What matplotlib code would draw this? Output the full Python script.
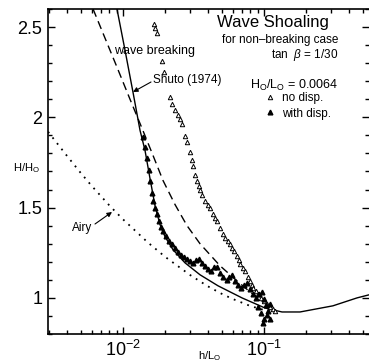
#Wave shoaling: H/Ho against h/Lo, with Airy, Shuto (1974) and the two data sets

import matplotlib.pyplot as plt
from matplotlib.ticker import MultipleLocator, FixedLocator

plt.rcParams['font.family'] = ['Liberation Sans', 'DejaVu Sans']
plt.rcParams['mathtext.fontset'] = 'custom'
plt.rcParams['mathtext.rm'] = 'Liberation Sans'
plt.rcParams['mathtext.it'] = 'Liberation Sans:italic'

#Airy (linear) shoaling curve, dotted
airy_h = [0.00294, 0.004, 0.005, 0.006, 0.008, 0.01, 0.015, 0.02, 0.03, 0.04,
          0.05, 0.06, 0.08, 0.1]
airy_H = [1.92, 1.787, 1.693, 1.62, 1.512, 1.435, 1.307, 1.226, 1.126, 1.064,
          1.023, 0.994, 0.955, 0.933]

#Shuto (1974), solid
shuto_h = [0.00906, 0.01033, 0.01177, 0.0132, 0.01432, 0.01554, 0.01686, 0.0183,
           0.01986, 0.02262, 0.02753, 0.03517, 0.04717, 0.06981, 0.1016, 0.1342,
           0.18, 0.308, 0.457, 0.556]
shuto_H = [2.60, 2.372, 2.139, 1.928, 1.817, 1.661, 1.511, 1.406,
           1.339, 1.267, 1.194, 1.128, 1.067, 1.0, 0.944, 0.922,
           0.922, 0.956, 1.0, 1.017]

#dashed curve
dash_h = [0.00613, 0.00745, 0.00906, 0.01121, 0.01364, 0.01632, 0.01922, 0.02338,
          0.02844, 0.03517, 0.04875, 0.06435, 0.07956, 0.09678, 0.1103]
dash_H = [2.60, 2.439, 2.278, 2.10, 1.939, 1.789, 1.65, 1.517,
          1.40, 1.30, 1.178, 1.094, 1.033, 0.983, 0.956]

#no disp. (open triangles)
nod_h = [0.01659, 0.01686, 0.01742, 0.01891, 0.01954, 0.02154, 0.02226, 0.02338,
         0.02455, 0.02537, 0.02621, 0.02753, 0.02844, 0.02987, 0.03086, 0.03137,
         0.03241, 0.03349, 0.0346, 0.03517, 0.03634, 0.03815, 0.04006, 0.0414,
         0.04348, 0.04492, 0.04641, 0.04875, 0.0512, 0.05289, 0.05555, 0.05739,
         0.0593, 0.06127, 0.06435, 0.06648, 0.06757, 0.07096, 0.07332, 0.077,
         0.07956, 0.0822, 0.08357, 0.08776, 0.09067, 0.09521, 0.09996, 0.105,
         0.1103, 0.1158, 0.1197]
nod_H = [2.517, 2.494, 2.467, 2.311, 2.25, 2.111, 2.072, 2.039,
         2.011, 1.989, 1.961, 1.894, 1.861, 1.806, 1.761, 1.728,
         1.678, 1.65, 1.622, 1.60, 1.572, 1.539, 1.517, 1.50,
         1.467, 1.444, 1.428, 1.389, 1.356, 1.333, 1.317, 1.30,
         1.278, 1.261, 1.233, 1.211, 1.189, 1.167, 1.15, 1.117,
         1.094, 1.072, 1.056, 1.039, 1.022, 1.0, 0.983, 0.967,
         0.95, 0.939, 0.928]

#with disp. (filled triangles)
wd_h = [0.01386, 0.01432, 0.0148, 0.01529, 0.01554, 0.01606, 0.01632, 0.01686,
        0.01742, 0.018, 0.0186, 0.01922, 0.02019, 0.02119, 0.02226, 0.02338,
        0.02455, 0.02579, 0.02708, 0.02844, 0.02987, 0.03137, 0.03294, 0.0346,
        0.03634, 0.03815, 0.04006, 0.04208, 0.04419, 0.04641, 0.04875, 0.0512,
        0.05465, 0.05646, 0.0593, 0.06228, 0.06541, 0.06868, 0.07213, 0.07575,
        0.07956, 0.08357, 0.08776, 0.09215, 0.09678, 0.09996, 0.1033, 0.1067,
        0.1103, 0.105, 0.09996, 0.09521, 0.09067, 0.1103, 0.09834]
wd_H = [1.889, 1.833, 1.772, 1.706, 1.65, 1.583, 1.539, 1.50,
        1.467, 1.428, 1.394, 1.372, 1.344, 1.317, 1.30, 1.278,
        1.256, 1.239, 1.228, 1.217, 1.206, 1.194, 1.211, 1.217,
        1.194, 1.178, 1.161, 1.15, 1.172, 1.172, 1.139, 1.117,
        1.10, 1.117, 1.128, 1.094, 1.072, 1.056, 1.072, 1.083,
        1.05, 1.022, 1.0, 1.022, 1.033, 0.994, 0.961, 0.928,
        0.967, 0.906, 0.883, 0.917, 0.95, 0.883, 0.861]

#figure pixel (from top left) -> figure fraction
W, H = 369, 363
def P(x, y):
    return (x / W, 1 - y / H)

fig = plt.figure(figsize=(W / 100, H / 100), dpi=100)
ax = fig.add_axes([48 / W, 1 - 334 / H, (W - 48) / W, (334 - 9) / H])

ax.plot(airy_h, airy_H, color='black', lw=1.3, linestyle=(0, (1, 3)))
ax.plot(dash_h, dash_H, color='black', lw=1.0, linestyle=(0, (6, 3.5)))
ax.plot(shuto_h, shuto_H, color='black', lw=1.0)
ax.plot(nod_h, nod_H, linestyle='none', marker='^', ms=3.2, mfc='white',
        mec='black', mew=0.7, label='no disp.')
ax.plot(wd_h, wd_H, linestyle='none', marker='^', ms=3.4, color='black',
        label='with disp.', zorder=3)

ax.set_xscale('log')
ax.set_xlim(0.002937, 0.5555)
ax.set_ylim(0.8, 2.6)
ax.set_xticks([0.01, 0.1])
ax.yaxis.set_major_locator(FixedLocator([1, 1.5, 2, 2.5]))
ax.set_yticklabels(['1', '1.5', '2', '2.5'])
ax.yaxis.set_minor_locator(MultipleLocator(0.1))
ax.tick_params(which='both', direction='in', top=True, right=True,
               labelsize=13, width=1.0)
ax.tick_params(which='major', length=5, pad=4)
ax.tick_params(which='minor', length=3)
ax.spines['right'].set_visible(False)
for s in ['left', 'bottom', 'top']:
    ax.spines[s].set_linewidth(1.2)

#axis labels
fig.text(*P(26, 168), 'H/H$_\\mathrm{O}$', fontsize=8, ha='center', va='center')
fig.text(*P(210, 356), 'h/L$_\\mathrm{O}$', fontsize=8, ha='center', va='center')

#title block
fig.text(*P(217, 22), 'Wave Shoaling', fontsize=12, ha='left', va='center')
fig.text(*P(338, 40), 'for non\u2013breaking case', fontsize=8.5, ha='right', va='center')
fig.text(*P(338, 55), 'tan  $\\it{\\beta}$ = 1/30', fontsize=8.5, ha='right', va='center')
fig.text(*P(338, 85), 'H$_\\mathrm{O}$/L$_\\mathrm{O}$ = 0.0064', fontsize=9,
         ha='right', va='center')

ax.legend(loc='upper left', bbox_to_anchor=P(265, 92), bbox_transform=fig.transFigure,
          frameon=False, fontsize=8.5, handlelength=0.8, handletextpad=0.6,
          labelspacing=0.3, borderpad=0, borderaxespad=0, markerscale=1.0)

#curve labels
fig.text(*P(114, 51), 'wave breaking', fontsize=9, ha='left', va='center')
fig.text(*P(153, 80), 'Shuto (1974)', fontsize=8.5, ha='left', va='center')
ax.annotate('', xy=P(133, 92), xytext=P(151, 82), xycoords='figure fraction',
            textcoords='figure fraction',
            arrowprops=dict(arrowstyle='-|>', color='black', lw=0.8,
                            mutation_scale=7, shrinkA=0, shrinkB=0))
fig.text(*P(72, 228), 'Airy', fontsize=8.5, ha='left', va='center')
ax.annotate('', xy=P(112, 212), xytext=P(95, 224), xycoords='figure fraction',
            textcoords='figure fraction',
            arrowprops=dict(arrowstyle='-|>', color='black', lw=0.8,
                            mutation_scale=7, shrinkA=0, shrinkB=0))

fig.savefig('out.png', dpi=100)
